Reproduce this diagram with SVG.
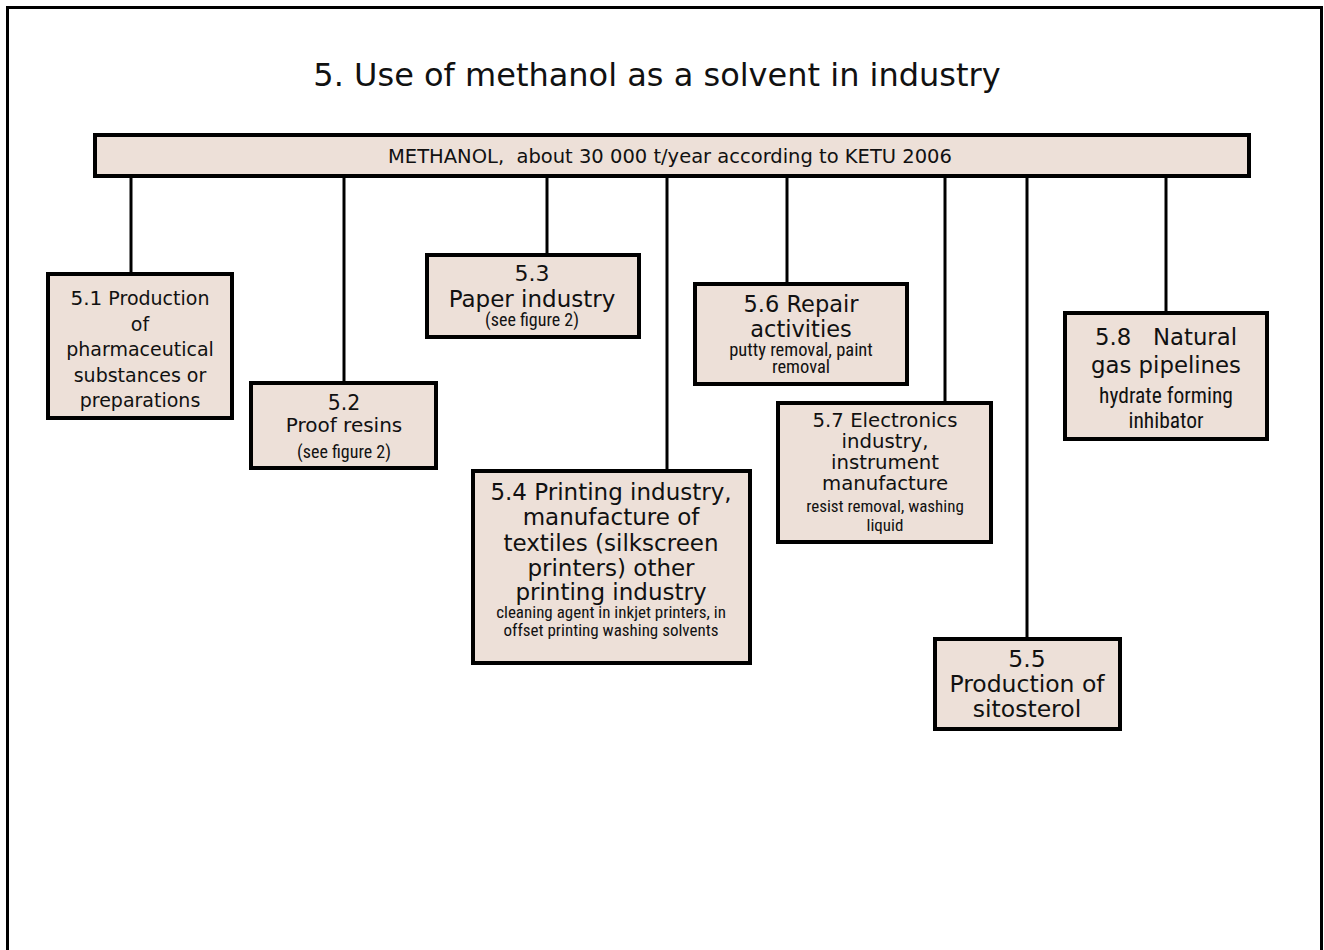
<svg xmlns="http://www.w3.org/2000/svg" width="1324" height="950" viewBox="0 0 1324 950">
<style>
.box{fill:#ede0d8;stroke:#000;stroke-width:4}
.ln{stroke:#000;stroke-width:3;fill:none}
text{font-family:"DejaVu Sans","Open Sans",sans-serif;fill:#111;text-anchor:middle}
.n{font-family:"Liberation Sans Narrow","Roboto Condensed","Liberation Sans",sans-serif}
</style>
<rect x="0" y="0" width="1324" height="950" fill="#fff"/>
<rect x="7.5" y="7.5" width="1314" height="960" fill="none" stroke="#000" stroke-width="3"/>
<text x="657" y="86" font-size="32">5. Use of methanol as a solvent in industry</text>
<g id="connectors">
<line class="ln" x1="131" y1="177" x2="131" y2="273"/>
<line class="ln" x1="344" y1="177" x2="344" y2="382"/>
<line class="ln" x1="547" y1="177" x2="547" y2="254"/>
<line class="ln" x1="667" y1="177" x2="667" y2="470"/>
<line class="ln" x1="787" y1="177" x2="787" y2="283"/>
<line class="ln" x1="945" y1="177" x2="945" y2="402"/>
<line class="ln" x1="1027" y1="177" x2="1027" y2="638"/>
<line class="ln" x1="1166" y1="177" x2="1166" y2="312"/>
</g>
<g id="methanol">
<rect class="box" x="95" y="135" width="1154" height="41"/>
<text x="670" y="163" font-size="19.5" xml:space="preserve">METHANOL,  about 30 000 t/year according to KETU 2006</text>
</g>
<g id="n51">
<rect class="box" x="48" y="274" width="184" height="144"/>
<text x="140" font-size="19"><tspan x="140" y="305"><tspan font-size="20">5.1</tspan> Production</tspan><tspan x="140" y="331">of</tspan><tspan x="140" y="356">pharmaceutical</tspan><tspan x="140" y="382">substances or</tspan><tspan x="140" y="407">preparations</tspan></text>
</g>
<g id="n52">
<rect class="box" x="251" y="383" width="185" height="85"/>
<text x="344" y="410" font-size="20.5">5.2</text>
<text x="344" y="432" font-size="20">Proof resins</text>
<text class="n" x="344" y="458" font-size="18">(see figure 2)</text>
</g>
<g id="n53">
<rect class="box" x="427" y="255" width="212" height="82"/>
<text x="532" y="281" font-size="22">5.3</text>
<text x="532" y="307" font-size="23">Paper industry</text>
<text class="n" x="532" y="326" font-size="18">(see figure 2)</text>
</g>
<g id="n54">
<rect class="box" x="473" y="471" width="277" height="192"/>
<text x="611" font-size="23"><tspan x="611" y="500">5.4 Printing industry,</tspan><tspan x="611" y="525">manufacture of</tspan><tspan x="611" y="551">textiles (silkscreen</tspan><tspan x="611" y="576">printers) other</tspan><tspan x="611" y="600">printing industry</tspan></text>
<text class="n" x="611" font-size="17"><tspan x="611" y="618">cleaning agent in inkjet printers, in</tspan><tspan x="611" y="636">offset printing washing solvents</tspan></text>
</g>
<g id="n55">
<rect class="box" x="935" y="639" width="185" height="90"/>
<text x="1027" font-size="23.5"><tspan x="1027" y="667">5.5</tspan><tspan x="1027" y="692">Production of</tspan><tspan x="1027" y="717">sitosterol</tspan></text>
</g>
<g id="n56">
<rect class="box" x="695" y="284" width="212" height="100"/>
<text x="801" font-size="22.5"><tspan x="801" y="312">5.6 Repair</tspan><tspan x="801" y="337">activities</tspan></text>
<text class="n" x="801" font-size="18.5"><tspan x="801" y="356">putty removal, paint</tspan><tspan x="801" y="373">removal</tspan></text>
</g>
<g id="n57">
<rect class="box" x="778" y="403" width="213" height="139"/>
<text x="885" font-size="19.7"><tspan x="885" y="427">5.7 Electronics</tspan><tspan x="885" y="448">industry,</tspan><tspan x="885" y="469">instrument</tspan><tspan x="885" y="490">manufacture</tspan></text>
<text class="n" x="885" font-size="17"><tspan x="885" y="512">resist removal, washing</tspan><tspan x="885" y="531">liquid</tspan></text>
</g>
<g id="n58">
<rect class="box" x="1065" y="313" width="202" height="126"/>
<text x="1166" font-size="22.8" xml:space="preserve"><tspan x="1166" y="345">5.8   Natural</tspan><tspan x="1166" y="373">gas pipelines</tspan></text>
<text class="n" x="1166" font-size="21.5"><tspan x="1166" y="403">hydrate forming</tspan><tspan x="1166" y="428">inhibator</tspan></text>
</g>
</svg>
